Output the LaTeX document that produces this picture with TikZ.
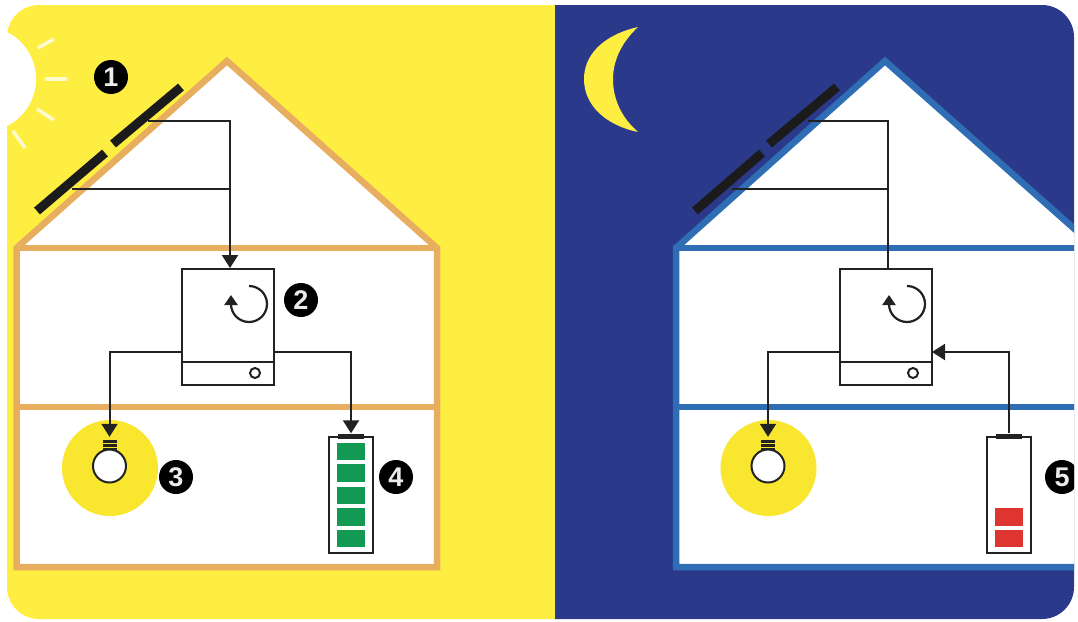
\documentclass[tikz,border=0pt]{standalone}
\usepackage{fontspec}
\setmainfont{Liberation Sans}
\usetikzlibrary{arrows.meta,calc}
\definecolor{sunY}{HTML}{FFEE42}
\definecolor{haloY}{HTML}{F9E62E}
\definecolor{nightB}{HTML}{2B398B}
\definecolor{roofO}{HTML}{E8AE60}
\definecolor{roofB}{HTML}{2F6DB5}
\definecolor{ink}{HTML}{222222}
\definecolor{cellG}{HTML}{129A55}
\definecolor{cellR}{HTML}{DE3530}
\tikzset{
  housewall/.style={line width=6.5pt,miter limit=10,line join=miter},
  panelbar/.style={line width=9pt,color=ink!80!black},
  wire/.style={draw=ink,line width=2pt},
  flow/.style={wire,-{Triangle[width=16pt,length=13pt]}},
  badge/.style={circle,fill=black,text=white!92!black,inner sep=0pt,minimum size=34pt,font=\bfseries\fontsize{27}{27}\selectfont},
  inverter/.style={rectangle,draw=ink,line width=2pt,fill=white,minimum width=92pt,minimum height=116pt,inner sep=0pt},
  led/.style={circle,draw=ink,line width=2pt,fill=white,minimum size=10pt,inner sep=0pt},
  halo/.style={circle,fill=haloY,minimum size=96pt,inner sep=0pt},
  bulbglass/.style={circle,draw=ink,line width=2pt,fill=white,minimum size=33pt,inner sep=0pt},
  bulbbase/.style={rectangle,fill=ink,minimum width=14pt,minimum height=10pt,inner sep=0pt},
  battery/.style={rectangle,draw=ink,line width=2pt,fill=white,minimum width=44pt,minimum height=116pt,inner sep=0pt},
  batcap/.style={rectangle,fill=ink,minimum width=26pt,minimum height=5pt,inner sep=0pt},
  cell/.style={rectangle,minimum width=28pt,minimum height=17.5pt,inner sep=0pt},
  rayline/.style={line width=3.5pt,color=white!75!sunY},
  cyclearrow/.style={draw=ink,line width=2.2pt,-{Triangle[width=13pt,length=10pt]}},
}
\begin{document}
\begin{tikzpicture}[x=1pt,y=-1pt]
\useasboundingbox (0,0) rectangle (1078,621);
\begin{scope}
\clip[rounded corners=32pt] (7,5) rectangle (1074,619);
% backgrounds
\fill[sunY] (0,0) rectangle (555,621);
\fill[nightB] (555,0) rectangle (1078,621);
% sun
\fill[white] (-16.5,79) circle[radius=52.5];
\draw[rayline] (38,48) -- (54,39);
\draw[rayline] (45,79) -- (67,79);
\draw[rayline] (37,109) -- (54,120);
\draw[rayline] (13,131) -- (25,148);
% moon
\fill[sunY] (638,27) .. controls (603,35) and (584,55) .. (584,79)
  .. controls (584,105) and (605,125) .. (638,132)
  .. controls (622,118) and (613,100) .. (613,79)
  .. controls (613,60) and (622,42) .. (638,27) -- cycle;
% day house
\draw[housewall,draw=roofO,fill=white] (16.5,567) -- (16.5,248) -- (227,61) -- (437,248) -- (437,567) -- cycle;
\draw[housewall,draw=roofO] (16.5,248) -- (437,248);
\draw[housewall,draw=roofO] (16.5,407) -- (437,407);
% night house
\draw[housewall,draw=roofB,fill=white] (676,567) -- (676,248) -- (885,61) -- (1096,248) -- (1096,567) -- cycle;
\draw[housewall,draw=roofB] (676,248) -- (1096,248);
\draw[housewall,draw=roofB] (676,407) -- (1096,407);
% day panels
\coordinate (dpa1) at (37,211); \coordinate (dpa2) at (105,153);
\coordinate (dpb1) at (113,144); \coordinate (dpb2) at (181,87);
\draw[panelbar] (dpa1) -- (dpa2);
\draw[panelbar] (dpb1) -- (dpb2);
% night panels
\coordinate (npa1) at (695,211); \coordinate (npa2) at (762,153);
\coordinate (npb1) at (769,144); \coordinate (npb2) at (837,87);
\draw[panelbar] (npa1) -- (npa2);
\draw[panelbar] (npb1) -- (npb2);
% day equipment
\node[inverter] (dinv) at (228,327) {};
\draw[wire] (182,362) -- (274,362);
\node[led] (dled) at (255,373) {};
\draw[cyclearrow] (249,286) arc[start angle=-90,end angle=180,radius=18] -- ++(0,-9);
\node[halo] (dhalo) at (110,468) {};
\node[bulbglass] (dglass) at (109.5,466) {};
\node[bulbbase] (dbase) at (109.5,445) {};
\draw[haloY,line width=1pt] (102,443.5) -- (117,443.5) (102,447) -- (117,447);
\node[battery] (dbat) at (351,495) {};
\node[batcap] (dcap) at (351,436) {};
\foreach \i/\y in {1/451.5,2/473,3/495.5,4/517,5/538.5}
  \node[cell,fill=cellG] (dcell\i) at (351,\y) {};
% night equipment
\node[inverter] (ninv) at (886,327) {};
\draw[wire] (840,362) -- (932,362);
\node[led] (nled) at (913,373) {};
\draw[cyclearrow] (907,286) arc[start angle=-90,end angle=180,radius=18] -- ++(0,-9);
\node[halo] (nhalo) at (768.5,468) {};
\node[bulbglass] (nglass) at (768,466) {};
\node[bulbbase] (nbase) at (768,445) {};
\draw[haloY,line width=1pt] (760.5,443.5) -- (775.5,443.5) (760.5,447) -- (775.5,447);
\node[battery] (nbat) at (1008.5,495) {};
\node[batcap] (ncap) at (1008.5,436) {};
\foreach \i/\y in {1/517,2/538.5}
  \node[cell,fill=cellR] (ncell\i) at (1009,\y) {};
% day wires
\coordinate (dtrunkT) at (230,121);
\coordinate (dtrunkM) at (230,189);
\coordinate (dpT) at (148,121);
\coordinate (dpM) at (72,189);
\coordinate (dinvL) at (182,352);
\coordinate (dinvR) at (274,352);
\draw[wire] (dpT) -- (dtrunkT) -- (dtrunkM);
\draw[wire] (dpM) -- (dtrunkM);
\draw[flow] (dtrunkM) -- (dtrunkM |- dinv.north);
\draw[flow,shorten >=3pt] (dinvL) -| (dbase.north);
\draw[flow] (dinvR) -| (dcap.north);
% night wires
\coordinate (ntrunkT) at (888,121);
\coordinate (ntrunkM) at (888,189);
\coordinate (npT) at (808,121);
\coordinate (npM) at (732,189);
\coordinate (ninvL) at (840,352);
\coordinate (ninvR) at (932,352);
\draw[wire] (npT) -- (ntrunkT) -- (ntrunkM);
\draw[wire] (npM) -- (ntrunkM);
\draw[wire] (ntrunkM) -- (ntrunkM |- ninv.north);
\draw[flow,shorten >=3pt] (ninvL) -| (nbase.north);
\draw[flow] (ncap.north) |- (ninvR);
% badges
\node[badge] (b1) at (111,77) {1};
\node[badge] (b2) at (301,300) {2};
\node[badge] (b3) at (176,477) {3};
\node[badge] (b4) at (396,477) {4};
\node[badge] (b5) at (1062,477) {5};
\end{scope}
\end{tikzpicture}
\end{document}
